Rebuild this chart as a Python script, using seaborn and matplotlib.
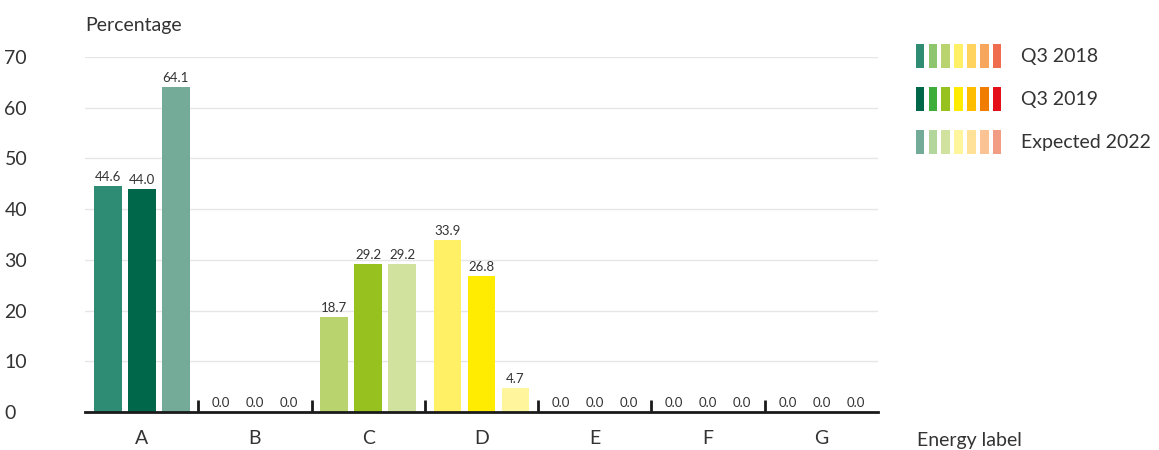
import pandas as pd
import matplotlib.pyplot as plt
import seaborn as sns
from matplotlib.patches import Patch
from matplotlib.legend_handler import HandlerTuple

# Data
labels = ['A', 'B', 'C', 'D', 'E', 'F', 'G']
series = ['Q3 2018', 'Q3 2019', 'Expected 2022']
q3_2018 = [44.6, 0.0, 18.7, 33.9, 0.0, 0.0, 0.0]
q3_2019 = [44.0, 0.0, 29.2, 26.8, 0.0, 0.0, 0.0]
expected_2022 = [64.1, 0.0, 29.2, 4.7, 0.0, 0.0, 0.0]

# Energy label colours per series (A..G)
colors = {
    'Q3 2018': ['#2e8b74', '#8dc66e', '#b9d36e', '#fff065', '#ffd35e', '#f7a65e', '#ef6c4e'],
    'Q3 2019': ['#00674b', '#3dae39', '#96c11f', '#ffec00', '#ffbd00', '#f07d00', '#e3101a'],
    'Expected 2022': ['#73ab98', '#b2d69c', '#d0e29e', '#fff59c', '#ffe198', '#fbc293', '#f39c84'],
}

df = pd.DataFrame({
    'label': labels * 3,
    'value': q3_2018 + q3_2019 + expected_2022,
    'series': [s for s in series for _ in labels],
})

sns.set_theme(style="white")
plt.rcParams['font.family'] = ['Lato', 'DejaVu Sans']
text_color = '#333333'

fig = plt.figure(figsize=(11.59, 4.5), dpi=100)
ax = fig.add_axes([85 / 1159, 1 - 412 / 450, 793 / 1159, 355 / 450])

sns.barplot(data=df, x='label', y='value', hue='series', hue_order=series,
            width=0.9, gap=0.18, legend=False, ax=ax, zorder=3)

# recolour bars by energy label
for s, cont in zip(series, ax.containers):
    for bar, c in zip(cont, colors[s]):
        bar.set_facecolor(c)
        bar.set_edgecolor('none')
    ax.bar_label(cont, fmt='%.1f', padding=2, fontsize=9.5, color=text_color)

ax.set_ylim(0, 70)
ax.set_xlim(-0.5, 6.5)
ax.set_yticks(range(0, 71, 10))
ax.yaxis.grid(True, color='#e6e6e6', linewidth=1, zorder=0)
ax.set_xlabel('')
ax.set_ylabel('')

for side in ['top', 'right', 'left']:
    ax.spines[side].set_visible(False)
ax.spines['bottom'].set_color('#1a1a1a')
ax.spines['bottom'].set_linewidth(2)
ax.spines['bottom'].set_zorder(5)

ax.tick_params(axis='x', which='major', length=0, pad=13, labelsize=14, labelcolor=text_color)
ax.set_xticks([i + 0.5 for i in range(6)], minor=True)
ax.tick_params(axis='x', which='minor', bottom=True, direction='in', length=9,
               width=2, color='#1a1a1a')
ax.tick_params(axis='y', length=0, pad=58, labelsize=14, labelcolor=text_color)
for t in ax.get_yticklabels():
    t.set_horizontalalignment('left')

ax.text(0, 1.09, 'Percentage', transform=ax.transAxes, fontsize=14,
        color=text_color, ha='left', va='center')
ax.text(1.049, -0.08, 'Energy label', transform=ax.transAxes, fontsize=14,
        color=text_color, ha='left', va='center')

handles = [tuple(Patch(facecolor=c, edgecolor='none') for c in colors[s]) for s in series]
fig.legend(handles, series, handler_map={tuple: HandlerTuple(ndivide=None, pad=0.22)},
           loc='upper left', bbox_to_anchor=(908 / 1159, 1 - 36 / 450),
           frameon=False, fontsize=14, handlelength=4.4, handleheight=1.5,
           handletextpad=1.0, labelspacing=1.0, labelcolor=text_color,
           borderaxespad=0)

plt.savefig('out.png', dpi=100)
